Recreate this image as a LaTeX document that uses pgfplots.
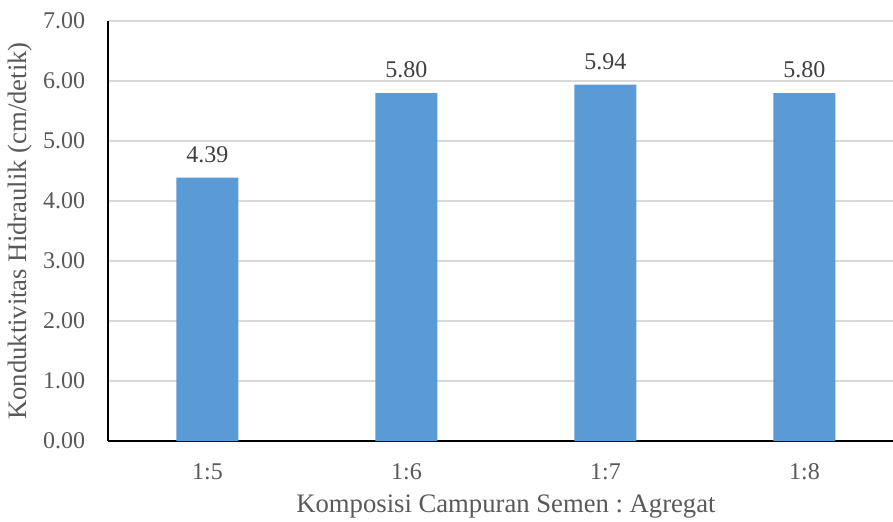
\documentclass[border=0pt]{standalone}
\usepackage{fontspec}
\setmainfont{Liberation Serif}
\usepackage{pgfplots}
\pgfplotsset{compat=1.18}
\definecolor{barblue}{HTML}{5B9BD5}
\definecolor{txtgray}{HTML}{595959}
\definecolor{lblgray}{HTML}{404040}
\definecolor{gridgray}{HTML}{D9D9D9}
\frenchspacing
\begin{document}
\begin{tikzpicture}
\useasboundingbox (-40.5pt,-30pt) rectangle (294.4pt,165.4pt);
\begin{axis}[
  at={(0,0)}, anchor=south west,
  scale only axis,
  width=294.4pt, height=157.5pt,
  xmin=-0.5, xmax=3.445,
  ymin=0, ymax=7,
  ytick={0,1,2,3,4,5,6,7},
  xtick={0,1,2,3},
  xticklabels={1:5,1:6,1:7,1:8},
  major tick length=0pt,
  axis x line*=bottom,
  axis y line*=left,
  axis line style={black, line width=0.75pt, -},
  ymajorgrids,
  grid style={gridgray, line width=0.75pt},
  /pgf/number format/assume math mode=true,
  yticklabel style={/pgf/number format/fixed, /pgf/number format/fixed zerofill, /pgf/number format/precision=2, xshift=-5pt},
  ticklabel style={font=\fontsize{9}{11}\selectfont, text=txtgray},
  xticklabel style={yshift=-5pt},
  xlabel={Komposisi Campuran Semen : Agregat},
  ylabel={Konduktivitas Hidraulik (cm/detik)},
  label style={font=\fontsize{10}{12}\selectfont, text=txtgray},
  xlabel style={at={(axis cs:1.5,0)}, yshift=-24.4pt, anchor=center},
  ylabel style={at={(axis description cs:-0.112,0.5)}, anchor=center},
  nodes near coords,
  point meta=explicit symbolic,
  nodes near coords style={font=\fontsize{9}{11}\selectfont, text=lblgray, yshift=2pt},
]
\addplot[ybar, bar width=23.25pt, fill=barblue, draw=none] coordinates {
  (0,4.39) [4.39]
  (1,5.80) [5.80]
  (2,5.94) [5.94]
  (3,5.80) [5.80]
};
\end{axis}
\end{tikzpicture}
\end{document}
